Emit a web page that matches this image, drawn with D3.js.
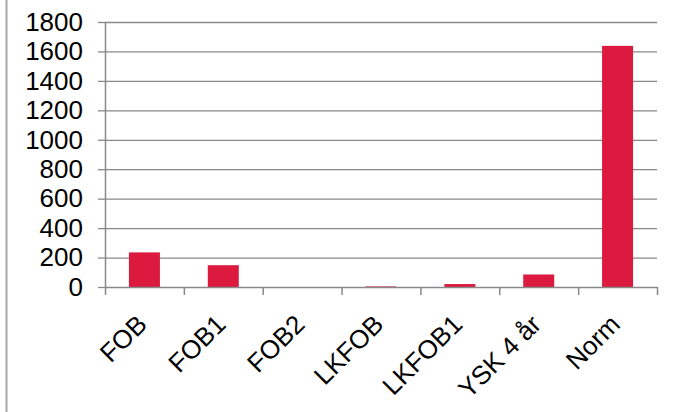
<!DOCTYPE html>
<html>
<head>
<meta charset="utf-8">
<script src="https://cdn.jsdelivr.net/npm/d3@7"></script>
<style>
  html, body { margin: 0; padding: 0; background: #fff; }
  svg { display: block; }
  text { font-family: "Liberation Sans", Arial, sans-serif; fill: #000; }
</style>
</head>
<body>
<svg id="chart" width="679" height="412"></svg>
<script>
const categories = ["FOB", "FOB1", "FOB2", "LKFOB", "LKFOB1", "YSK 4 år", "Norm"];
const values = [235, 148, 0, 4, 20, 85, 1638];
const yTicks = [0, 200, 400, 600, 800, 1000, 1200, 1400, 1600, 1800];

const svg = d3.select("#chart");
const plotLeft = 105, plotRight = 657, plotTop = 22, plotBottom = 287;
const gridColor = "#898989";
const barColor = "#dc1a3f";
const fontSize = 26;

// chart border (left edge visible)
svg.append("line")
  .attr("x1", 6.5).attr("x2", 6.5).attr("y1", 0).attr("y2", 412)
  .attr("stroke", "#a8a8a8").attr("stroke-width", 2);

const y = d3.scaleLinear().domain([0, 1800]).range([plotBottom, plotTop]);
const x = d3.scaleBand().domain(categories).range([plotLeft, plotRight])
  .paddingInner(0.607).paddingOuter(0.3035);
const xEdge = d3.scaleLinear().domain([0, categories.length]).range([plotLeft, plotRight]);

// gridlines
const grid = svg.append("g").attr("transform", `translate(${plotLeft},0)`)
  .call(d3.axisLeft(y).tickValues(yTicks.slice(1)).tickSize(-(plotRight - plotLeft)).tickFormat(""));
grid.select(".domain").remove();
grid.selectAll("line").attr("stroke", gridColor).attr("stroke-width", 1.3);

// bars
svg.append("g").selectAll("rect")
  .data(categories)
  .join("rect")
  .attr("x", d => x(d))
  .attr("width", x.bandwidth())
  .attr("y", (d, i) => y(values[i]))
  .attr("height", (d, i) => y(0) - y(values[i]))
  .attr("fill", barColor);

// y axis
const yAxis = svg.append("g").attr("transform", `translate(${plotLeft},0)`)
  .call(d3.axisLeft(y).tickValues(yTicks).tickFormat(d3.format("d"))
    .tickSize(7).tickPadding(15).tickSizeOuter(0));
yAxis.select(".domain").attr("stroke", gridColor).attr("stroke-width", 1.5);
yAxis.selectAll("line").attr("stroke", gridColor).attr("stroke-width", 1.3);
yAxis.selectAll("text").attr("font-size", fontSize).attr("fill", "#111")
  .attr("font-family", "Liberation Sans, Arial, sans-serif");

// x axis with ticks at category boundaries
const xAxis = svg.append("g").attr("transform", `translate(0,${plotBottom})`)
  .call(d3.axisBottom(xEdge).tickValues(d3.range(categories.length + 1)).tickSize(8).tickFormat("").tickSizeOuter(0));
xAxis.select(".domain").attr("stroke", gridColor).attr("stroke-width", 1.5);
xAxis.selectAll("line").attr("stroke", gridColor).attr("stroke-width", 1.5);

// rotated category labels
svg.append("g").selectAll("text")
  .data(categories)
  .join("text")
  .attr("transform", d => `translate(${x(d) + x.bandwidth() / 2 + 4},${plotBottom + 39}) rotate(-45)`)
  .attr("text-anchor", "end")
  .attr("font-size", fontSize)
  .attr("fill", "#111")
  .text(d => d);
</script>
</body>
</html>
